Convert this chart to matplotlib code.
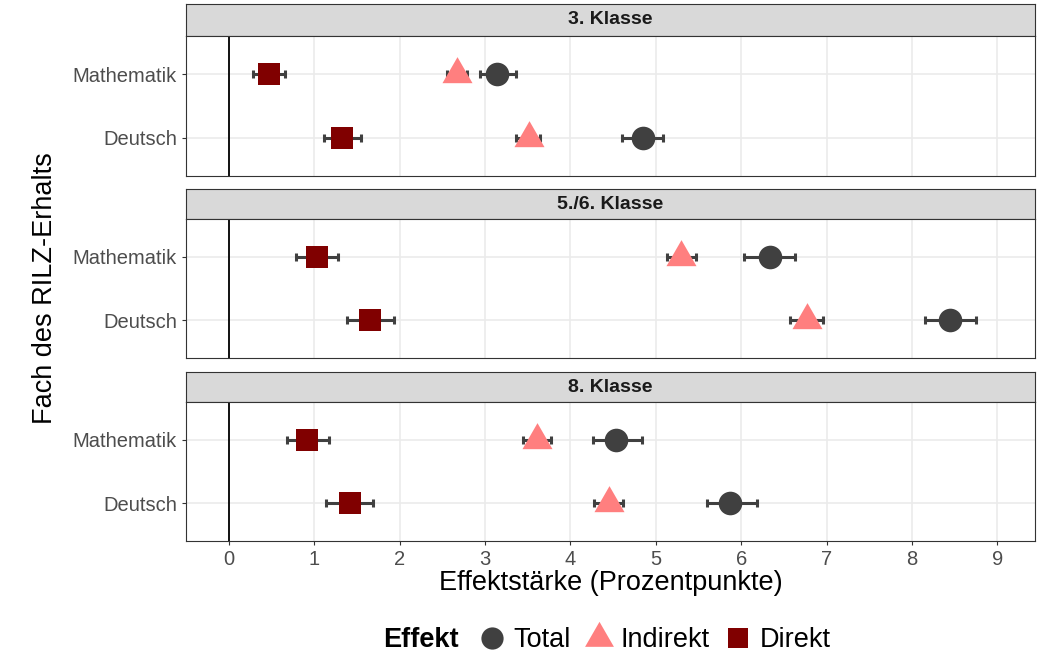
import numpy as np
import matplotlib
matplotlib.use("Agg")
import matplotlib.pyplot as plt
from matplotlib.lines import Line2D
from matplotlib.path import Path

plt.rcParams['font.family'] = ['Liberation Sans', 'DejaVu Sans']

# data
klassen = ['3. Klasse', '5./6. Klasse', '8. Klasse']
faecher = ['Deutsch', 'Mathematik']
effekte = ['Total', 'Indirekt', 'Direkt']

# est[klasse][effekt] = [Deutsch, Mathematik]
est = {
    '3. Klasse':    {'Total': [4.85, 3.14], 'Indirekt': [3.51, 2.67], 'Direkt': [1.33, 0.47]},
    '5./6. Klasse': {'Total': [8.44, 6.34], 'Indirekt': [6.77, 5.29], 'Direkt': [1.66, 1.03]},
    '8. Klasse':    {'Total': [5.87, 4.54], 'Indirekt': [4.45, 3.61], 'Direkt': [1.42, 0.92]},
}
lo = {
    '3. Klasse':    {'Total': [4.61, 2.94], 'Indirekt': [3.36, 2.55], 'Direkt': [1.12, 0.28]},
    '5./6. Klasse': {'Total': [8.15, 6.03], 'Indirekt': [6.57, 5.13], 'Direkt': [1.39, 0.79]},
    '8. Klasse':    {'Total': [5.60, 4.26], 'Indirekt': [4.28, 3.44], 'Direkt': [1.14, 0.68]},
}
hi = {
    '3. Klasse':    {'Total': [5.08, 3.36], 'Indirekt': [3.65, 2.79], 'Direkt': [1.55, 0.66]},
    '5./6. Klasse': {'Total': [8.75, 6.63], 'Indirekt': [6.96, 5.47], 'Direkt': [1.94, 1.28]},
    '8. Klasse':    {'Total': [6.18, 4.84], 'Indirekt': [4.62, 3.77], 'Direkt': [1.69, 1.18]},
}

# ggplot-style triangle, centred on its centroid
tri = Path([(0, 2), (-1.73, -1), (1.73, -1), (0, 2)],
           [Path.MOVETO, Path.LINETO, Path.LINETO, Path.CLOSEPOLY])

farben = {'Total': '#404040', 'Indirekt': '#FF7F7F', 'Direkt': '#800000'}
marker = {'Total': 'o', 'Indirekt': tri, 'Direkt': 's'}
msize = {'Total': 17, 'Indirekt': 25, 'Direkt': 16}

W, H = 1039, 655
fig = plt.figure(figsize=(W / 100, H / 100), dpi=100)

def fx(px):
    return px / W

def box(top, bot):
    return 1 - bot / H, (bot - top) / H

left, right = 186, 1035
strips = [(4, 36), (189, 219), (372, 402)]
panels = [(36, 176), (219, 358), (402, 541)]

for i, k in enumerate(klassen):
    sb, sh = box(*strips[i])
    sax = fig.add_axes([fx(left), sb, fx(right - left), sh])
    sax.set_facecolor('#D9D9D9')
    sax.set_xticks([]); sax.set_yticks([])
    for s in sax.spines.values():
        s.set_color('#333333'); s.set_linewidth(0.8)
    sax.text(0.5, 0.5, k, ha='center', va='center', fontsize=14,
             fontweight='bold', color='#1A1A1A', transform=sax.transAxes)

    pb, ph = box(*panels[i])
    ax = fig.add_axes([fx(left), pb, fx(right - left), ph])
    ax.set_xlim(-0.5, 9.44)
    ax.set_ylim(0.4, 2.6)
    ax.set_xticks(range(10))
    ax.set_yticks([1, 2])
    ax.set_yticklabels(faecher)
    ax.grid(True, color='#EBEBEB', linewidth=1.2)
    ax.set_axisbelow(True)
    ax.axvline(0, color='black', linewidth=1.3, zorder=1.5)
    for s in ax.spines.values():
        s.set_color('#333333'); s.set_linewidth(0.8)
    ax.tick_params(colors='#333333', labelcolor='#4D4D4D', labelsize=14.5,
                   length=3, width=0.8)
    if i < 2:
        ax.tick_params(axis='x', labelbottom=False, length=0)
    y = np.array([1, 2])
    for e in effekte:
        m = np.array(est[k][e])
        ax.errorbar(m, y, xerr=[m - np.array(lo[k][e]), np.array(hi[k][e]) - m],
                    fmt='none', ecolor='#404040', elinewidth=2.2, capsize=3,
                    capthick=2.2, zorder=2)
    for e in effekte:
        ax.plot(est[k][e], y, linestyle='none', marker=marker[e],
                markersize=msize[e], color=farben[e], markeredgewidth=0,
                zorder=3)
    if i == 2:
        ax.set_xlabel('Effektstärke (Prozentpunkte)', fontsize=19.5,
                      color='black', labelpad=1)

fig.text(fx(45), 1 - 288 / H, 'Fach des RILZ-Erhalts', rotation=90,
         ha='center', va='center', fontsize=19.5)

fig.text(fx(383), 1 - 640 / H, 'Effekt', fontweight='bold', fontsize=19.5,
         ha='left', va='center')
handles = [Line2D([], [], linestyle='none', marker=marker[e], color=farben[e],
                  markersize=msize[e] - 1, markeredgewidth=0) for e in effekte]
fig.legend(handles, effekte, loc='center left',
           bbox_to_anchor=(fx(478), 1 - 640 / H), ncol=3, frameon=False,
           fontsize=19.5, handlelength=1.0, handletextpad=0.3,
           columnspacing=0.55, borderpad=0, borderaxespad=0)

fig.savefig('out.png', dpi=100)
